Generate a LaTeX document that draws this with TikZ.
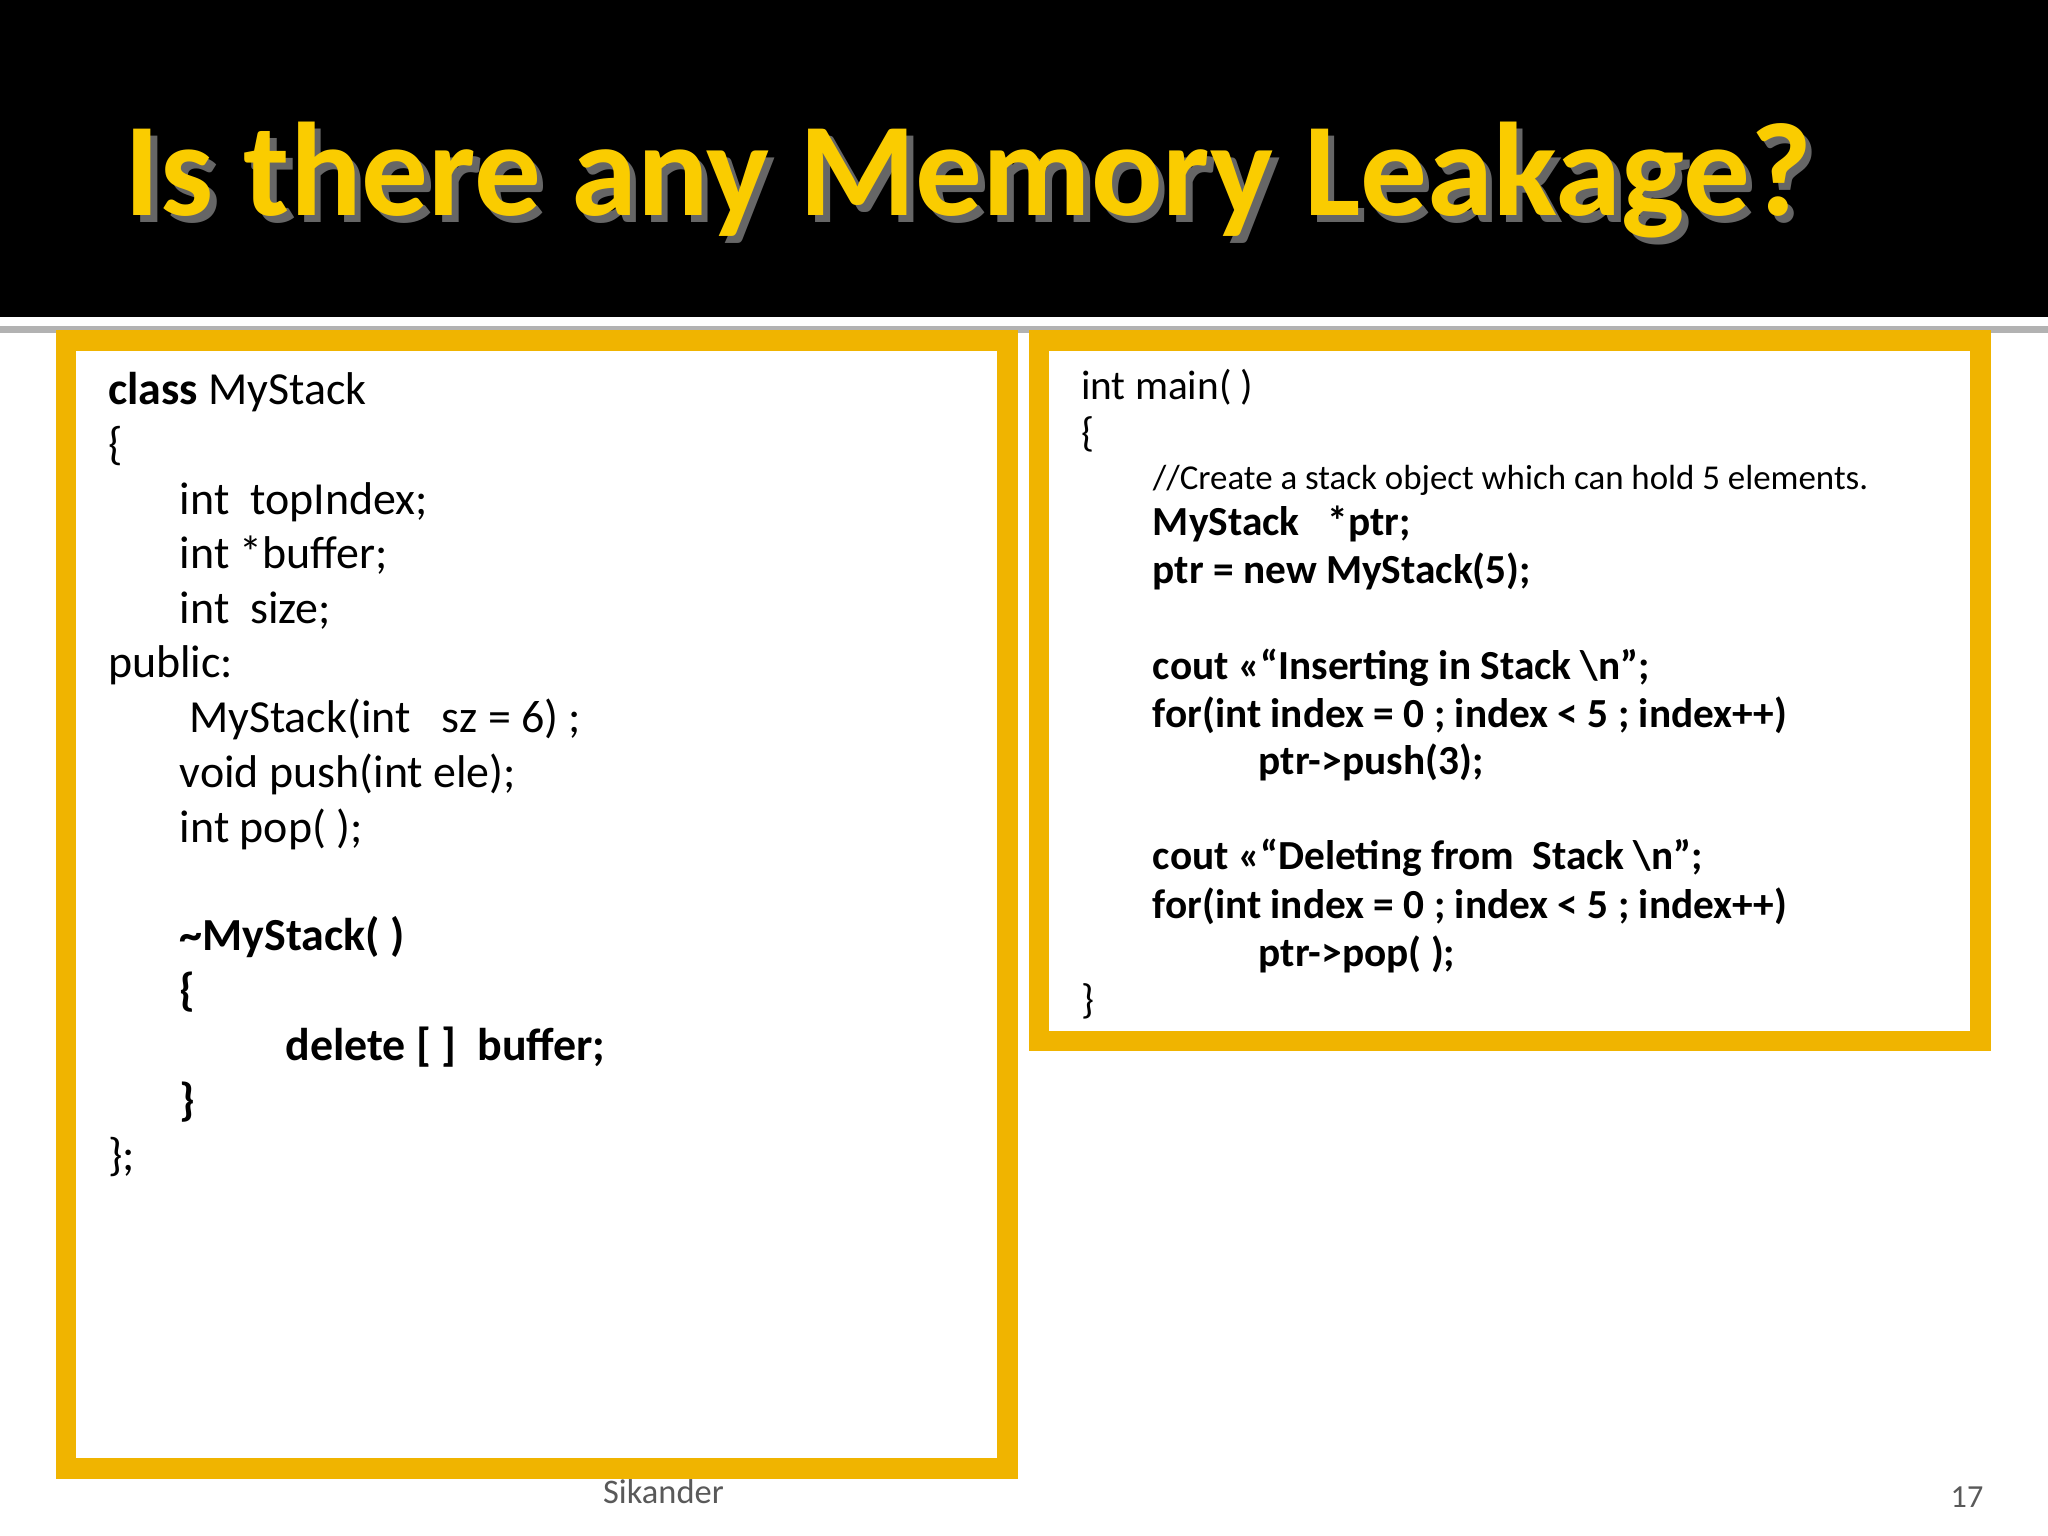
\documentclass[tikz,border=0pt]{standalone}
\usepackage{fontspec}
\setmainfont{Carlito}
\definecolor{gold}{RGB}{240,180,0}
\definecolor{titleyellow}{RGB}{250,204,0}
\begin{document}
\begin{tikzpicture}[x=0.01cm,y=-0.01cm,
	code/.style = {anchor=base west, inner sep=0pt, font=\fontsize{10pt}{12pt}\selectfont},
	rcode/.style = {anchor=base west, inner sep=0pt, font=\fontsize{9pt}{11pt}\selectfont},
	frame/.style = {draw=gold, line width=4pt}]
	\useasboundingbox (0,0) rectangle (1568,1176);
	\fill[black] (0,0) rectangle (1568,243);
	\draw[gray!60, line width=1.5pt] (0,252) -- (1568,252);
	\node[anchor=base west, inner sep=0pt, text=black!60, font=\bfseries\fontsize{29pt}{34pt}\selectfont] at (100,170) {Is there any Memory Leakage?};
	\node[anchor=base west, inner sep=0pt, text=titleyellow, font=\bfseries\fontsize{29pt}{34pt}\selectfont] (title) at (95,165) {Is there any Memory Leakage?};
	% left box
	\draw[frame] (50,260) rectangle (772,1125);
	\draw[gold, line width=0.8pt] (57,267) rectangle (765,1118);
	\node[code] (l1) at (82,310) {\textbf{class} MyStack};
	\node[code] (l2) at (82,352) {\{};
	\node[code] (l3) at (137,394) {int\ \ topIndex;};
	\node[code] (l4) at (137,435) {int *buffer;};
	\node[code] (l5) at (137,477) {int\ \ size;};
	\node[code] (l6) at (82,519) {public:};
	\node[code] (l7) at (144,561) {MyStack(int\ \ \ sz = 6) ;};
	\node[code] (l8) at (137,603) {void push(int ele);};
	\node[code] (l9) at (137,645) {int pop( );};
	\node[code, font=\bfseries\fontsize{10pt}{12pt}\selectfont] (l10) at (137,728) {\textasciitilde MyStack( )};
	\node[code, font=\bfseries\fontsize{10pt}{12pt}\selectfont] (l11) at (137,770) {\{};
	\node[code, font=\bfseries\fontsize{10pt}{12pt}\selectfont] (l12) at (218,812) {delete [ ]\ \ buffer;};
	\node[code, font=\bfseries\fontsize{10pt}{12pt}\selectfont] (l13) at (137,854) {\}};
	\node[code] (l14) at (82,896) {\};};
	% right box
	\draw[frame] (795,260) rectangle (1517,798);
	\draw[gold, line width=0.8pt] (802,267) rectangle (1510,791);
	\node[rcode] (r1) at (827,306) {int main( )};
	\node[rcode] (r2) at (827,342) {\{};
	\node[rcode, font=\fontsize{7.6pt}{9pt}\selectfont] (r3) at (882,375) {//Create a stack object which can hold 5 elements.};
	\node[rcode, font=\bfseries\fontsize{9pt}{11pt}\selectfont] (r4) at (882,410) {MyStack\ \ \ *ptr;};
	\node[rcode, font=\bfseries\fontsize{9pt}{11pt}\selectfont] (r5) at (882,447) {ptr = new MyStack(5);};
	\node[rcode, font=\bfseries\fontsize{9pt}{11pt}\selectfont] (r6) at (882,520) {cout <<“Inserting in Stack \textbackslash n”;};
	\node[rcode, font=\bfseries\fontsize{9pt}{11pt}\selectfont] (r7) at (882,557) {for(int index = 0 ; index < 5 ; index++)};
	\node[rcode, font=\bfseries\fontsize{9pt}{11pt}\selectfont] (r8) at (963,593) {ptr->push(3);};
	\node[rcode, font=\bfseries\fontsize{9pt}{11pt}\selectfont] (r9) at (882,666) {cout <<“Deleting from\ \ Stack \textbackslash n”;};
	\node[rcode, font=\bfseries\fontsize{9pt}{11pt}\selectfont] (r10) at (882,703) {for(int index = 0 ; index < 5 ; index++)};
	\node[rcode, font=\bfseries\fontsize{9pt}{11pt}\selectfont] (r11) at (963,740) {ptr->pop( );};
	\node[rcode] (r12) at (827,776) {\}};
	% footer
	\node[anchor=base, inner sep=0pt, text=black!65, font=\fontsize{7.5pt}{9pt}\selectfont] (author) at (508,1151) {Sikander};
	\node[anchor=base, inner sep=0pt, text=black!65, font=\fontsize{7pt}{9pt}\selectfont] (page) at (1506,1154) {17};
\end{tikzpicture}
\end{document}
